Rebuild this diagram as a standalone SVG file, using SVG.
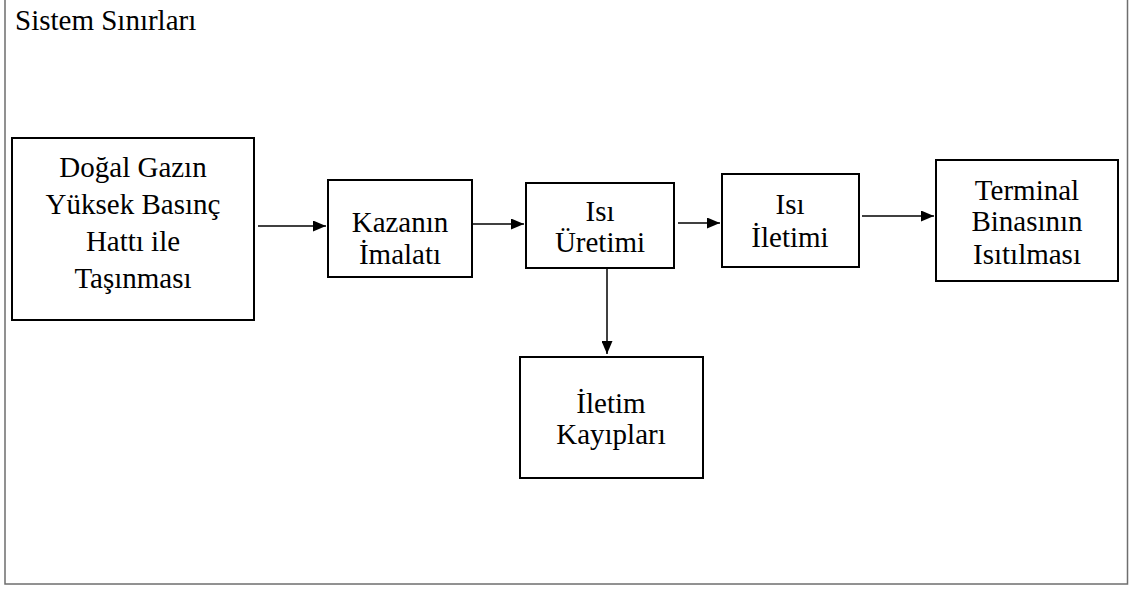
<svg xmlns="http://www.w3.org/2000/svg" width="1131" height="590" viewBox="0 0 1131 590">
  <style>
    .frame { fill: #ffffff; stroke: #6e6e6e; stroke-width: 1.5; }
    .box { fill: #ffffff; stroke: #000000; stroke-width: 2; }
    text { font-family: 'Liberation Serif', Tinos, 'Times New Roman', Times, 'DejaVu Serif', serif; fill: #000000; }
    .lbl { font-size: 29px; text-anchor: middle; }
    .title { font-size: 29px; }
    .link { fill: none; stroke: #000000; stroke-width: 1.5; }
  </style>
  <defs>
    <marker id="arrow" viewBox="0 0 13 11" refX="13" refY="5.5" markerWidth="13" markerHeight="11" markerUnits="userSpaceOnUse" orient="auto">
      <path d="M0,0 L13,5.5 L0,11 Z" fill="#000000"/>
    </marker>
  </defs>

  <rect width="1131" height="590" fill="#ffffff"/>

  <!-- system boundary -->
  <g id="system-boundary">
    <rect class="frame" x="5" y="-1" width="1122.5" height="585"/>
    <text class="title" x="15" y="30">Sistem Sınırları</text>
  </g>

  <g id="gas-transport">
    <rect class="box" x="12" y="138" width="242" height="182"/>
    <text class="lbl" x="133" y="177">Doğal Gazın</text>
    <text class="lbl" x="133" y="214">Yüksek Basınç</text>
    <text class="lbl" x="133" y="251">Hattı ile</text>
    <text class="lbl" x="133" y="288">Taşınması</text>
  </g>

  <g id="boiler-manufacture">
    <rect class="box" x="328" y="180" width="144" height="97"/>
    <text class="lbl" x="400" y="232">Kazanın</text>
    <text class="lbl" x="400" y="264">İmalatı</text>
  </g>

  <g id="heat-generation">
    <rect class="box" x="526" y="183" width="148" height="85"/>
    <text class="lbl" x="600" y="221">Isı</text>
    <text class="lbl" x="600" y="252">Üretimi</text>
  </g>

  <g id="heat-transfer">
    <rect class="box" x="722" y="174" width="137" height="93"/>
    <text class="lbl" x="790" y="214">Isı</text>
    <text class="lbl" x="790" y="247">İletimi</text>
  </g>

  <g id="terminal-heating">
    <rect class="box" x="936" y="160" width="182" height="121"/>
    <text class="lbl" x="1027" y="200">Terminal</text>
    <text class="lbl" x="1027" y="231">Binasının</text>
    <text class="lbl" x="1027" y="264">Isıtılması</text>
  </g>

  <g id="transfer-losses">
    <rect class="box" x="520" y="357" width="183" height="121"/>
    <text class="lbl" x="611" y="413">İletim</text>
    <text class="lbl" x="611" y="444">Kayıpları</text>
  </g>

  <!-- connectors -->
  <g id="connectors">
    <line class="link" x1="258" y1="226" x2="326" y2="226" marker-end="url(#arrow)"/>
    <line class="link" x1="473" y1="224" x2="524" y2="224" marker-end="url(#arrow)"/>
    <line class="link" x1="678" y1="223" x2="720" y2="223" marker-end="url(#arrow)"/>
    <line class="link" x1="862" y1="216" x2="934" y2="216" marker-end="url(#arrow)"/>
    <line class="link" x1="607" y1="268" x2="607" y2="354" marker-end="url(#arrow)"/>
  </g>
</svg>
